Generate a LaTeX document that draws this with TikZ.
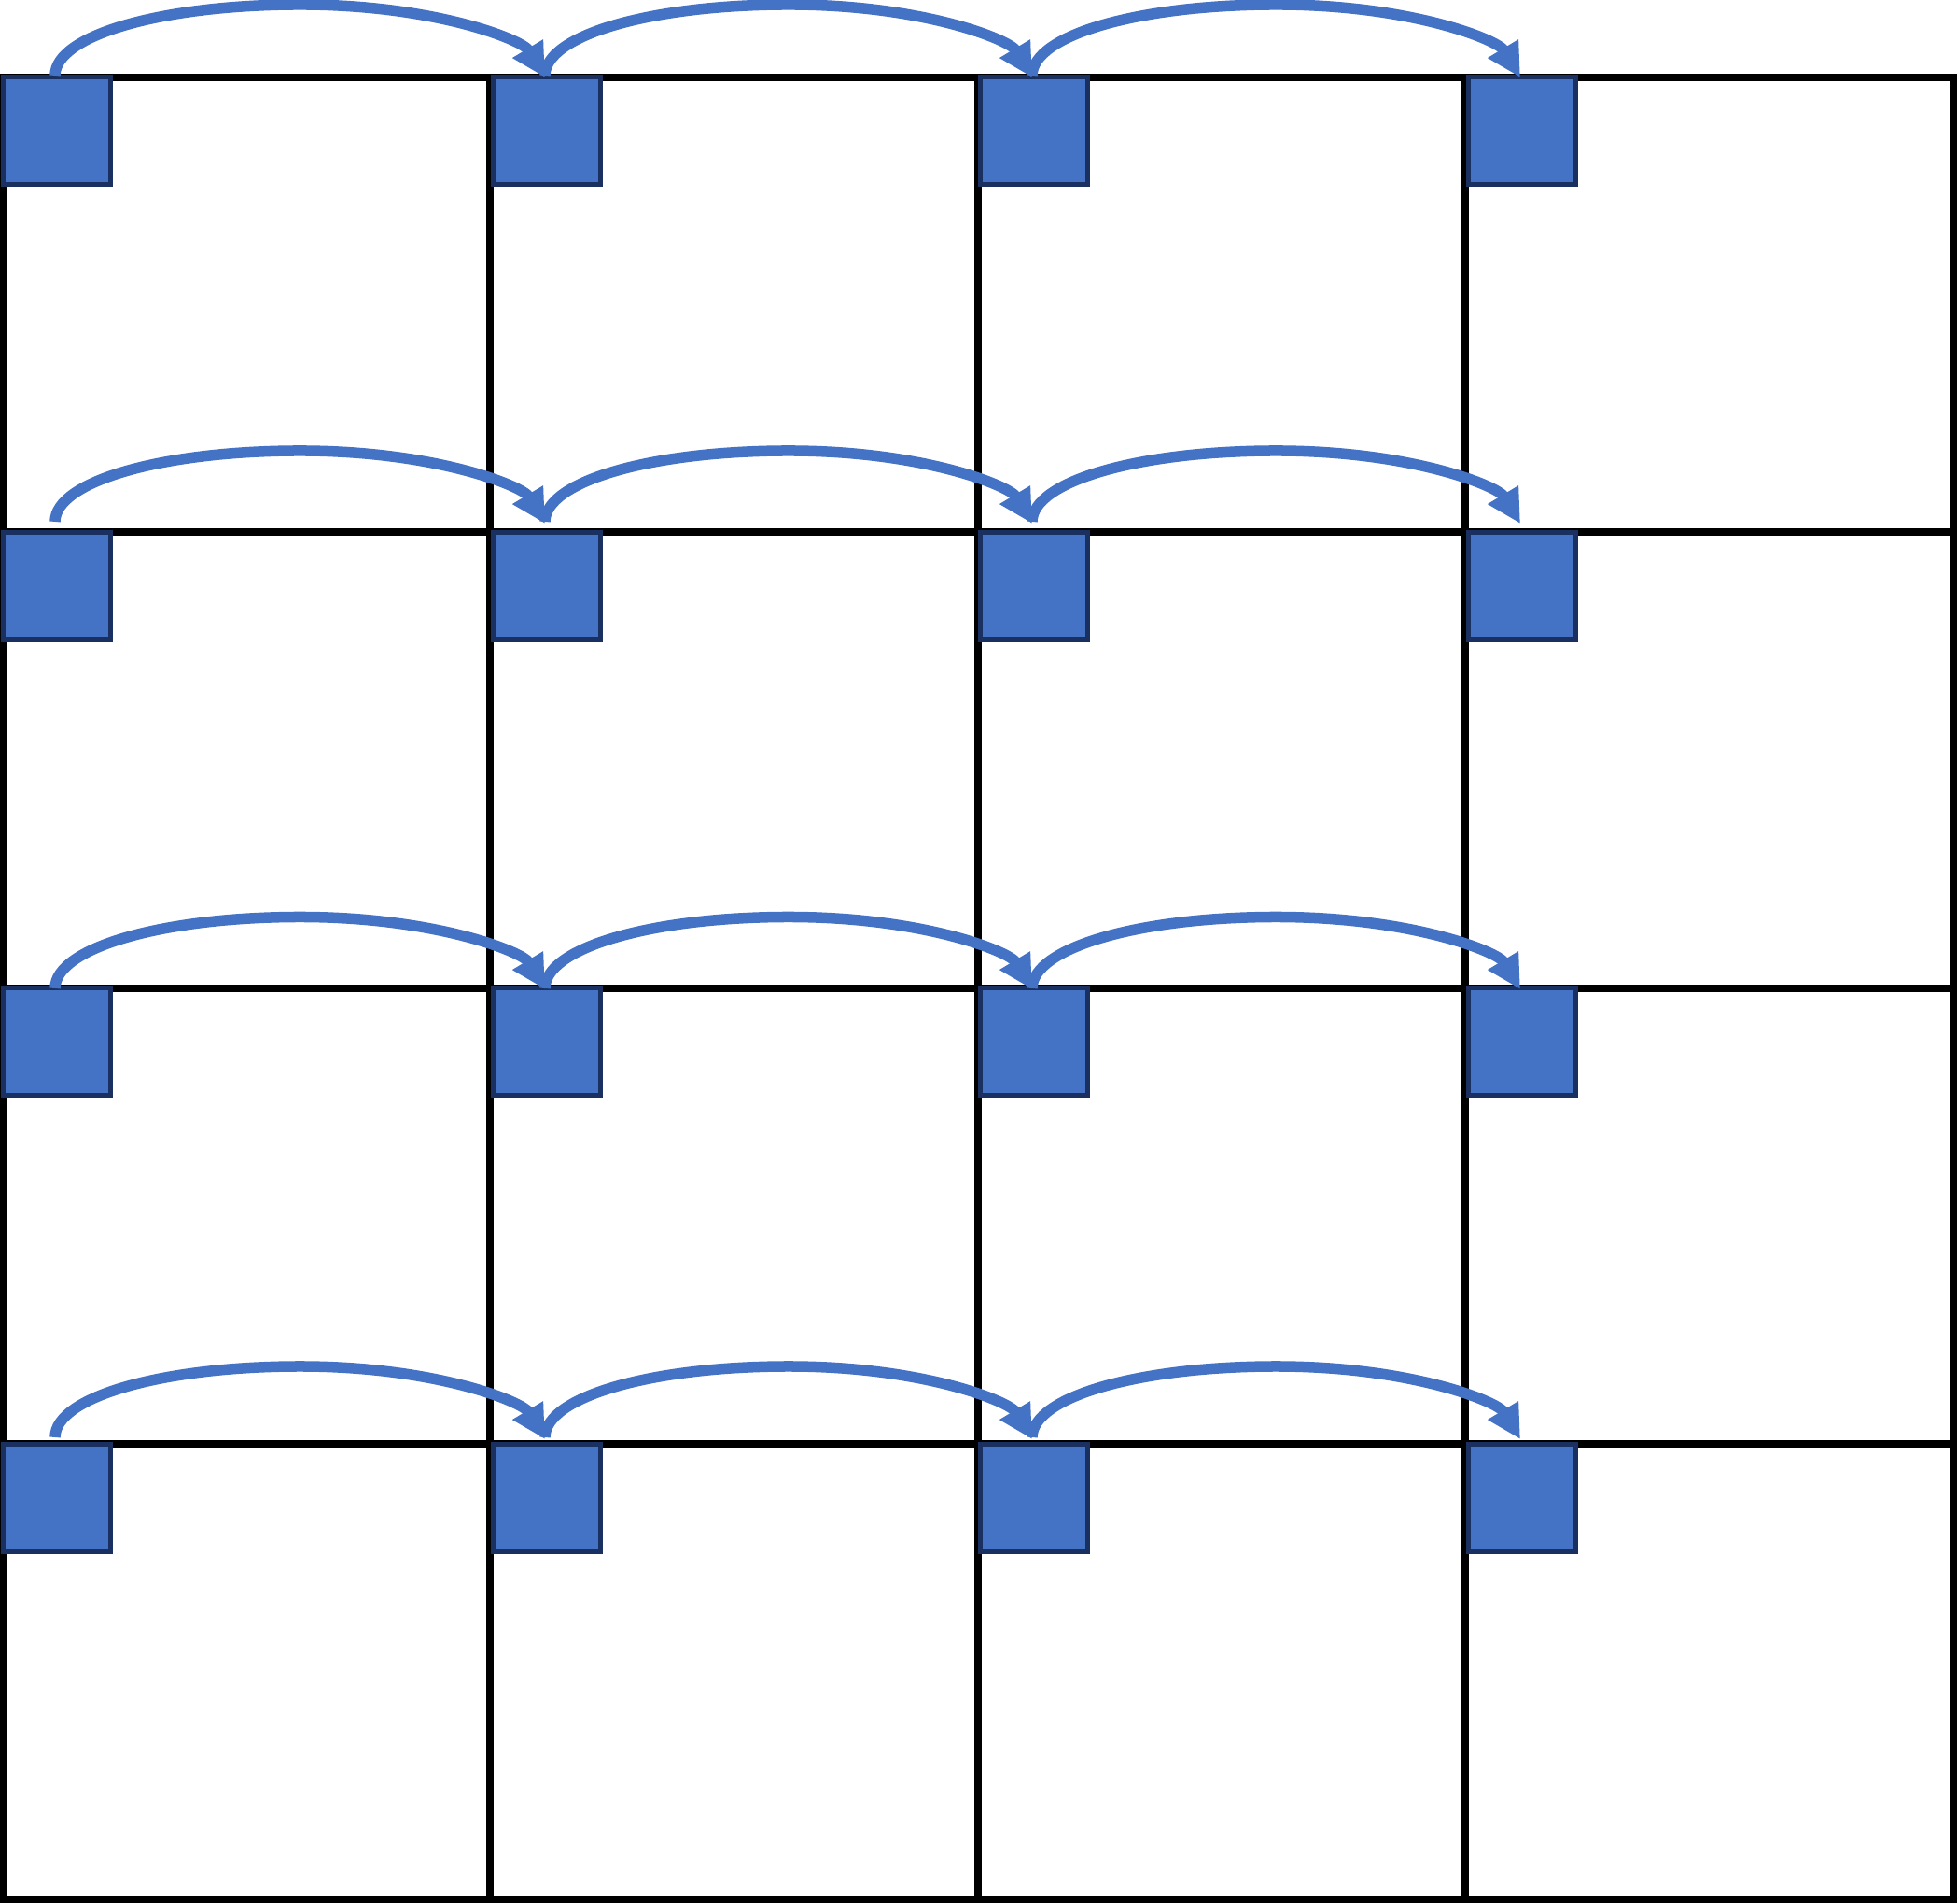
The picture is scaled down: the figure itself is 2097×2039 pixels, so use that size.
\documentclass[tikz,border=0pt]{standalone}
\usetikzlibrary{arrows.meta,calc}
\definecolor{sqfill}{HTML}{4472C4}
\definecolor{sqline}{HTML}{1A3060}
\definecolor{arcblue}{HTML}{4472C4}
\begin{document}
\begin{tikzpicture}[x=0.01cm,y=-0.01cm,
  gridline/.style={line width=0.075cm, black},
  sq/.style={draw=sqline, fill=sqfill, line width=0.05cm, minimum size=1.14cm, inner sep=0pt, outer sep=0pt},
  hop/.style={draw=arcblue, line width=0.115cm, -{Triangle[length=0.36cm,width=0.36cm]}}]
\useasboundingbox (0,0) rectangle (2097,2039);
% grid
\draw[gridline] (4,83) rectangle (2093,2035);
\foreach \x in {525,1048,1570} \draw[gridline] (\x,83) -- (\x,2035);
\foreach \y in {570,1059,1547} \draw[gridline] (4,\y) -- (2093,\y);
% squares
\foreach \r/\yc in {1/140,2/628,3/1116,4/1605}
  \foreach \c/\xc in {1/61,2/586,3/1108,4/1631}
    \node[sq] (s-\r-\c) at (\xc,\yc) {};
% arrows
\foreach \r/\sa/\ea in {1/-2/0,2/-12/-10,3/0/1,4/-8/-6}
  \foreach \c/\n in {1/2,2/3,3/4} {
    \coordinate (a-\r-\c) at ($(s-\r-\c.north)+(-2,\sa)$);
    \coordinate (b-\r-\c) at ($(s-\r-\n.north)+(-2,\ea)$);
    \coordinate (p-\r-\c) at ($(a-\r-\c)!0.5!(b-\r-\c)+(0,-77)$);
    \draw[hop] (a-\r-\c) .. controls +(0,-44) and +(-145,0) .. (p-\r-\c)
      .. controls +(145,0) and +(-24,-40) .. (b-\r-\c);
  }
\end{tikzpicture}
\end{document}
